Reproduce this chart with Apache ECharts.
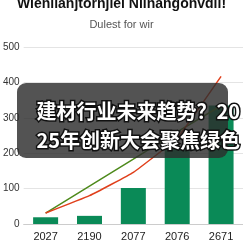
<!DOCTYPE html>
<html><head><meta charset="utf-8">
<script src="https://cdn.jsdelivr.net/npm/echarts@6/dist/echarts.min.js"></script>
<style>html,body{margin:0;padding:0;background:#fff}#c{width:243px;height:243px}</style>
</head><body><div id="c"></div>
<script>
var categories = ['2027', '2190', '2077', '2076', '2671'];
var barValues = [19, 23, 102, 215, 335];
var redLine = [31, 80, 146, 243, 417];
var greenLine = [31, 107, 183, 260, 334];
var yTicks = [0, 100, 200, 300, 400, 500];
var titleText = 'Wienllanjtornjiel Nlinangonvdil!';
var subtitleText = 'Dulest for wir';
var overlayLines = ['建材行业未来趋势？20', '25年创新大会聚焦绿色'];

var chart = echarts.init(document.getElementById('c'));
chart.setOption({
  animation: false,
  backgroundColor: '#fff',
  title: {
    text: titleText, subtext: subtitleText, left: 'center', top: -8, itemGap: 8,
    textStyle: {fontFamily: 'Liberation Sans', fontWeight: 'bold', fontSize: 14, color: '#111'},
    subtextStyle: {fontFamily: 'Liberation Sans', fontSize: 11, color: '#555'}
  },
  grid: {left: 23, right: -1, top: 47, bottom: 19, containLabel: false},
  xAxis: {
    type: 'category', data: categories,
    axisLine: {lineStyle: {color: '#ccc'}}, axisTick: {show: false},
    axisLabel: {fontFamily: 'Liberation Sans', fontSize: 11, color: '#222', margin: 7}
  },
  yAxis: {
    type: 'value', min: yTicks[0], max: yTicks[yTicks.length - 1], interval: 100,
    axisLine: {show: false}, axisTick: {show: false},
    axisLabel: {fontFamily: 'Liberation Sans', fontSize: 10, color: '#333', margin: 4},
    splitLine: {lineStyle: {color: '#e4e4e4'}}
  },
  series: [
    {type: 'bar', data: barValues, barWidth: 25, itemStyle: {color: '#0a8a57'}, z: 2},
    {type: 'line', data: greenLine, symbol: 'none', lineStyle: {color: '#4e8a1c', width: 1.5}, z: 3},
    {type: 'line', data: redLine, symbol: 'none', smooth: 0.1, lineStyle: {color: '#e0401c', width: 1.5}, z: 4}
  ],
  graphic: [
    {type: 'rect', left: 17, top: 83, z: 100,
     shape: {width: 211, height: 75, r: 9},
     style: {fill: 'rgba(45,45,45,0.82)'}},
    {type: 'text', left: 35, top: 97, z: 101,
     style: {text: overlayLines.join('\n'), fill: '#fff', stroke: '#111', lineWidth: 3,
       font: 'bold 20px "Noto Sans CJK SC"', lineHeight: 29}}
  ]
});
</script></body></html>
